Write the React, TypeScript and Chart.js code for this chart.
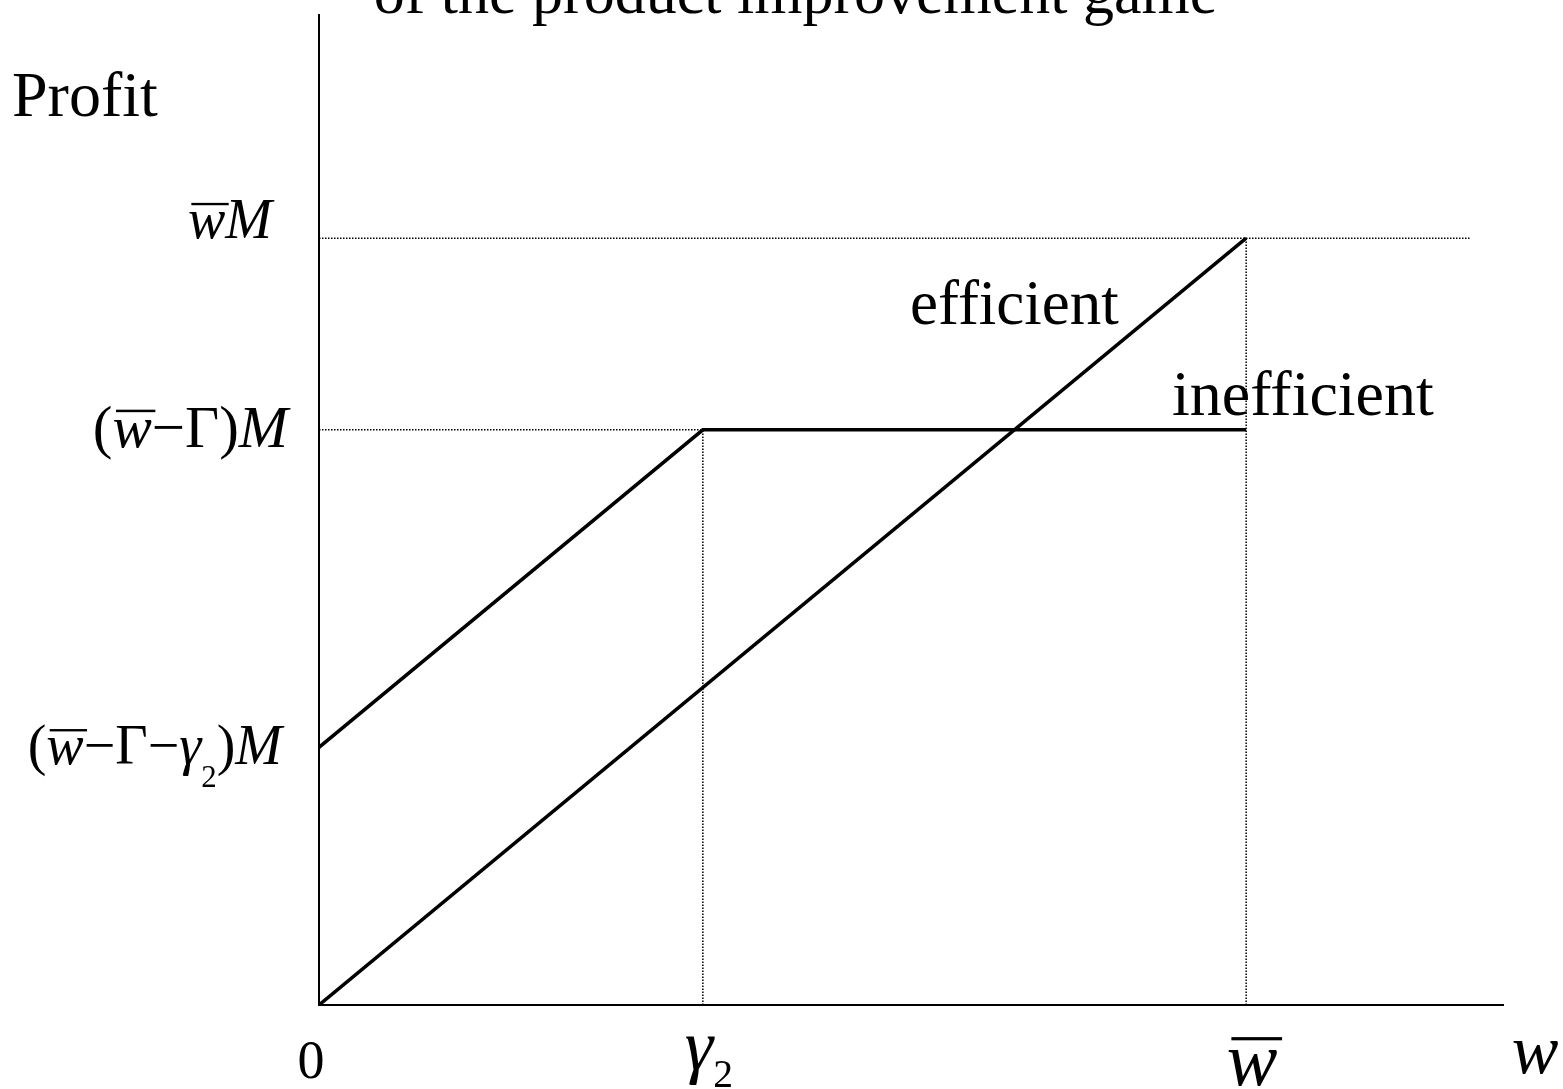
import React, { useEffect, useRef } from "react";
import { Chart, registerables } from "chart.js";

Chart.register(...registerables);

// ---- data ----
const TITLE = "of the product improvement game";
const Y_AXIS_TITLE = "Profit";
const X_AXIS_TITLE = "w";

const W_BAR = 1.0; // w̄
const GAMMA2 = 0.414; // γ₂
const PROFIT_TOP = 1.0; // w̄M
const PROFIT_MID = 0.75; // (w̄−Γ)M
const PROFIT_LOW = 0.336; // (w̄−Γ−γ₂)M

const X_MAX = 1.277;
const Y_MAX = 1.291;
const GUIDE_END = 1.242;

const X_TICK_VALUES = [0, GAMMA2, W_BAR];
const X_TICK_LABELS = ["0", "γ₂", "w\u0304"];
const Y_TICK_VALUES = [PROFIT_TOP, PROFIT_MID, PROFIT_LOW];
const Y_TICK_LABELS = ["w\u0304M", "(w\u0304−Γ)M", "(w\u0304−Γ−γ₂)M"];

const EFFICIENT_X = [0, W_BAR];
const EFFICIENT_Y = [0, PROFIT_TOP];
const INEFFICIENT_X = [0, GAMMA2, W_BAR];
const INEFFICIENT_Y = [PROFIT_LOW, PROFIT_MID, PROFIT_MID];

const SERIES_LABELS = ["efficient", "inefficient"];

// ---- styles ----
const SERIF = '"Liberation Serif", "Times New Roman", serif';
const X_LABEL_STYLE = [
  { size: 54, dy: 73, dx: -8, subShift: 0.38 },
  { size: 72, dy: 65, dx: 6, subShift: 0.24 },
  { size: 76, dy: 80, dx: 6, subShift: 0.38 },
];
const Y_LABEL_STYLE = [
  { size: 56, dy: 0, right: 47, subShift: 0.38 },
  { size: 59, dy: 17, right: 31, subShift: 0.38 },
  { size: 56, dy: 17, right: 37, subShift: 0.4 },
];

const SUB_MAP: Record<string, string> = { "₀": "0", "₁": "1", "₂": "2", "₃": "3" };

function drawMath(
  ctx: CanvasRenderingContext2D,
  text: string,
  x: number,
  y: number,
  size: number,
  align: string,
  subShift = 0.38
) {
  const chars = Array.from(text);
  const runs: any[] = [];
  for (let i = 0; i < chars.length; i++) {
    const c = chars[i];
    if (c === "\u0304") continue;
    const over = chars[i + 1] === "\u0304";
    const sub = c in SUB_MAP;
    const ch = sub ? SUB_MAP[c] : c;
    const italic = /[A-Za-z\u03b1-\u03c9]/.test(ch);
    const sz = sub ? size * 0.55 : size;
    const font = `${italic ? "italic " : ""}${sz}px ${SERIF}`;
    ctx.font = font;
    runs.push({ ch, font, w: ctx.measureText(ch).width, sub, over });
  }
  const total = runs.reduce((a, r) => a + r.w, 0);
  let cx = align === "right" ? x - total : align === "center" ? x - total / 2 : x;
  ctx.textAlign = "left";
  ctx.textBaseline = "alphabetic";
  for (const r of runs) {
    ctx.font = r.font;
    ctx.fillText(r.ch, cx, r.sub ? y + size * subShift : y);
    if (r.over) {
      ctx.fillRect(cx + size * 0.06, y - size * 0.63, r.w, Math.max(2, size * 0.042));
    }
    cx += r.w;
  }
}

const labelsPlugin = {
  id: "mathLabels",
  afterDraw(chart: any) {
    const { ctx, chartArea, scales } = chart;
    const xs = scales.x;
    const ys = scales.y;
    ctx.save();
    ctx.fillStyle = "#000";

    // title (cut at top)
    ctx.font = `62px ${SERIF}`;
    ctx.textAlign = "center";
    ctx.textBaseline = "alphabetic";
    ctx.fillText(TITLE, chart.width / 2 + 14, 13);

    // y axis title
    ctx.font = `64px ${SERIF}`;
    ctx.textAlign = "left";
    ctx.fillText(Y_AXIS_TITLE, chartArea.left - 307, 116);

    // x axis title
    drawMath(ctx, X_AXIS_TITLE, chartArea.right + 32, chartArea.bottom + 68, 70, "center");

    // x tick labels
    X_TICK_VALUES.forEach((v, i) => {
      const st = X_LABEL_STYLE[i];
      drawMath(ctx, X_TICK_LABELS[i], xs.getPixelForValue(v) + st.dx, chartArea.bottom + st.dy, st.size, "center", st.subShift);
    });

    // y tick labels
    Y_TICK_VALUES.forEach((v, i) => {
      const st = Y_LABEL_STYLE[i];
      drawMath(ctx, Y_TICK_LABELS[i], chartArea.left - st.right, ys.getPixelForValue(v) + st.dy, st.size, "right", st.subShift);
    });

    // series labels
    ctx.textAlign = "left";
    ctx.font = `63px ${SERIF}`;
    ctx.fillText(SERIES_LABELS[0], xs.getPixelForValue(0.6375), ys.getPixelForValue(0.888));
    ctx.font = `64px ${SERIF}`;
    ctx.fillText(SERIES_LABELS[1], xs.getPixelForValue(0.92), ys.getPixelForValue(0.769));

    ctx.restore();
  },
};

function pts(xsArr: number[], ysArr: number[]) {
  return xsArr.map((x, i) => ({ x, y: ysArr[i] }));
}

export default function App() {
  const ref = useRef<HTMLCanvasElement>(null);
  useEffect(() => {
    if (!ref.current) return;
    const guide = {
      showLine: true,
      borderColor: "#000",
      borderWidth: 1.5,
      borderDash: [1.5, 1.5],
      pointRadius: 0,
      fill: false,
    };
    const solid = {
      showLine: true,
      borderColor: "#000",
      borderWidth: 3.5,
      pointRadius: 0,
      fill: false,
      borderJoinStyle: "miter",
    };
    const chart = new Chart(ref.current, {
      type: "scatter",
      data: {
        datasets: [
          { ...guide, label: "g1", data: pts([0, GUIDE_END], [PROFIT_TOP, PROFIT_TOP]) },
          { ...guide, label: "g2", data: pts([0, GAMMA2], [PROFIT_MID, PROFIT_MID]) },
          { ...guide, label: "g3", data: pts([GAMMA2, GAMMA2], [0, PROFIT_MID]) },
          { ...guide, label: "g4", data: pts([W_BAR, W_BAR], [0, PROFIT_TOP]) },
          { ...solid, label: SERIES_LABELS[0], data: pts(EFFICIENT_X, EFFICIENT_Y) },
          { ...solid, label: SERIES_LABELS[1], data: pts(INEFFICIENT_X, INEFFICIENT_Y) },
        ] as any,
      },
      options: {
        animation: false,
        responsive: false,
        devicePixelRatio: 1,
        layout: { padding: { left: 319, right: 60, top: 15, bottom: 84 } },
        plugins: { legend: { display: false }, tooltip: { enabled: false }, title: { display: false } },
        scales: {
          x: {
            type: "linear",
            min: 0,
            max: X_MAX,
            ticks: { display: false },
            grid: { display: false, drawTicks: false },
            border: { display: true, color: "#000", width: 2 },
            afterFit: (s: any) => { s.height = 0; },
          },
          y: {
            type: "linear",
            min: 0,
            max: Y_MAX,
            ticks: { display: false },
            grid: { display: false, drawTicks: false },
            border: { display: true, color: "#000", width: 2 },
            afterFit: (s: any) => { s.width = 0; },
          },
        },
      } as any,
      plugins: [labelsPlugin],
    });
    return () => chart.destroy();
  }, []);
  return (
    <div style={{ position: "absolute", left: 0, top: 0, width: 1563, height: 1089, background: "#fff" }}>
      <canvas ref={ref} width={1563} height={1089} style={{ width: 1563, height: 1089, display: "block" }} />
    </div>
  );
}
